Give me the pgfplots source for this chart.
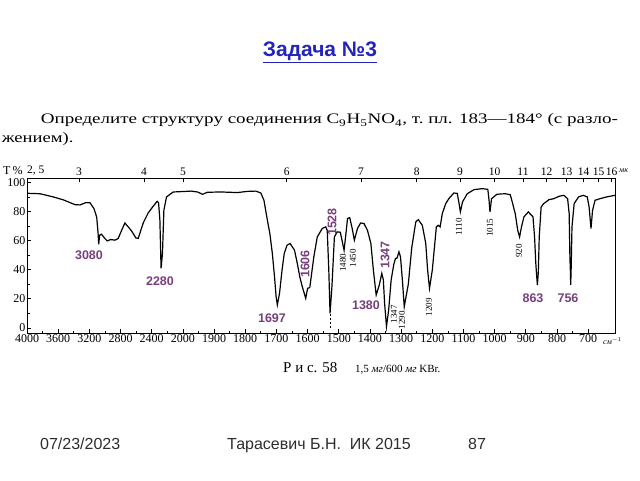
\documentclass[border=0pt]{standalone}
\usepackage{pgfplots}
\pgfplotsset{compat=1.18}
\usepackage{pgfplotstable}
\usepackage{graphicx}
\usepackage{fontspec}
\setmainfont{Liberation Serif}
\newfontfamily\arial{Liberation Sans}
\definecolor{titleblue}{RGB}{35,35,190}
\definecolor{peak}{RGB}{120,62,125}
\definecolor{foot}{RGB}{45,45,45}

\pgfplotstableread{
nu T
4000 92.5
3833 92.2
3663 90
3535 88
3385 84.7
3320 84.5
3244 86.1
3192 86
3141 82
3106 76.2
3088 65
3080 57.5
3068 63.7
3045 64.4
3000 61.4
2971 59.8
2927 60.7
2872 60.3
2830 61.4
2786 67.1
2744 72.1
2701 69.4
2658 66.6
2603 61.8
2573 61.5
2509 72.1
2445 79
2381 83.6
2330 87
2312 86
2295 74
2280 41
2262 51
2244 80.8
2210 90
2124 93.4
2038 93.6
1974 94
1953 93.4
1937 91.8
1921 93.2
1878 93.4
1825 93
1793 93.8
1766 94
1750 92.7
1740 87.7
1729 74
1721 64.8
1713 51
1706 35
1701 21.5
1697 15.8
1690 23.8
1682 39.7
1675 51
1666 56.8
1656 58
1642 53.4
1633 44.3
1625 35.1
1617 28.3
1606 20.3
1600 27.2
1593 27.7
1580 48.8
1569 62.5
1553 68.3
1542 69.4
1537 67.1
1532 39.7
1528 10
1522 28.3
1514 62.5
1505 66
1495 65.7
1483 53.4
1477 64.8
1472 75.1
1465 75.8
1458 69.4
1450 60.3
1440 68.3
1430 72.1
1419 71.7
1408 67.1
1397 58
1389 39.7
1380 22.6
1370 29.5
1362 37.5
1357 32.9
1353 16.9
1347 1.0
1340 12.3
1332 32.9
1324 43.2
1318 47.7
1313 48
1307 52.3
1302 48.8
1296 32.9
1290 14.6
1277 30
1266 55
1253 72.8
1245 74.4
1232 70.5
1221 58
1215 39.7
1209 27.2
1200 39.7
1192 58
1187 69.4
1181 70.5
1175 69.4
1168 78.5
1157 85.4
1147 88.8
1131 92.7
1120 92.4
1115 86.6
1110 79.7
1103 86.6
1088 92.2
1066 95
1040 95.7
1022 95.2
1018 87.7
1015 79.7
1010 88.8
1003 90
993 91.8
982 92
966 92.2
950 91.5
945 87.7
934 78.5
926 67.1
920 62.5
914 69.4
906 76.3
892 79.7
877 76.3
872 62.5
868 44.3
866 38
863 29.5
860 38
857 62.5
851 83
843 85.4
835 86.6
826 88.1
810 88.8
794 90.4
778 91.1
766 88.8
761 78.5
758.5 46.6
757.5 42
756 29.5
754.5 42
752 69.4
745 85.4
731 90
716 91.1
703 90
697 83
691 68.3
686 80.8
678 87.7
662 88.8
641 90
614 91.1
}\spectrum

\pgfplotsset{irscale/.style={
  scale only axis, width=588pt, height=155pt,
  at={(27pt,147pt)}, anchor=south west,
  x coord trafo/.code={\pgfmathparse{(##1>2000)?((4000-##1)/400):(5+(2000-##1)/100)}},
  xmin=4000, xmax=614, ymin=-3.5, ymax=103,
  enlargelimits=false,
  axis line style={line width=0.9pt},
  tick align=inside,
  major tick length=4pt, minor tick length=2.5pt,
  tick style={black, line width=0.7pt},
}}

\begin{document}
\begin{tikzpicture}[x=1pt,y=1pt]
\path[use as bounding box] (0,0) rectangle (640,480);

\begin{axis}[irscale,
  tick pos=left,
  xtick={4000,3600,3200,2800,2400,2000,1900,1800,1700,1600,1500,1400,1300,1200,1100,1000,900,800,700},
  xticklabels={4000,3600,3200,2800,2400,2000,1900,1800,1700,1600,1500,1400,1300,1200,1100,1000,900,800,700},
  minor x tick num=1,
  ytick={0,20,40,60,80,100}, minor y tick num=1,
  xticklabel style={font=\fontsize{12}{12}\selectfont, yshift=2pt},
  yticklabel style={font=\fontsize{12}{12}\selectfont, xshift=2pt},
  /pgf/number format/assume math mode=true,
]
\addplot[black, line width=1.2pt] table[x=nu, y=T] {\spectrum};
\end{axis}

\begin{axis}[irscale, hide y axis, axis x line*=top,
  xtick={4000,3333.33,2500,2000,1666.67,1428.57,1250,1111.11,1000,909.09,833.33,769.23,714.29,666.67,625},
  xticklabels={{},3,4,5,6,7,8,9,10,11,12,13,14,15,16},
  minor x tick num=0,
  xticklabel style={font=\fontsize{11.5}{11.5}\selectfont, yshift=-1pt},
]
\end{axis}

% axis annotations
\node[font=\fontsize{12}{12}\selectfont, anchor=base west, inner sep=0] at (3,305) {T\,\%};
\node[font=\fontsize{11.5}{11.5}\selectfont, anchor=base west, inner sep=0] at (27,306) {2, 5};
\node[font=\itshape\fontsize{8}{8}\selectfont, anchor=base west, inner sep=0] at (619,307) {мк};
\node[font=\itshape\fontsize{8}{8}\selectfont, anchor=base west, inner sep=0] at (603,136) {см$^{-1}$};

% purple peak labels
\begin{scope}[every node/.style={font=\arial\bfseries\fontsize{12.5}{12.5}\selectfont, text=peak, inner sep=0}]
\node at (89,225) {3080};
\node at (160,199) {2280};
\node at (272,162) {1697};
\node[rotate=90] at (305,216) {1606};
\node[rotate=90] at (332,258) {1528};
\node[rotate=90] at (385,225) {1347};
\node at (366,175) {1380};
\node at (533,182) {863};
\node at (568,182) {756};
\end{scope}

% small black labels
\begin{scope}[every node/.style={font=\fontsize{9}{9}\selectfont, inner sep=0, rotate=90}]
\node at (343,217) {1480};
\node at (353,222) {1450};
\node at (394,166) {1347};
\node at (402,160) {1290};
\node at (429,173) {1209};
\node at (459,253) {1110};
\node at (490,252) {1015};
\node at (519,229) {920};
\end{scope}
\draw[dashed, line width=0.6pt, dash pattern=on 2pt off 2pt] (330,166) -- (330,151);

% caption
\node[anchor=base west, inner sep=0, font=\fontsize{15}{15}\selectfont] at (283,108) {Р и с. 58};
\node[anchor=base west, inner sep=0, font=\fontsize{11}{11}\selectfont] at (355,108) {1,5 \textit{мг}/600 \textit{мг} KBr.};

% title and text
\node[anchor=base, font=\arial\bfseries\fontsize{21}{21}\selectfont, text=titleblue] at (320,423) {\underline{Задача №3}};
\node[anchor=base west, inner sep=0, font=\fontsize{14.5}{14.5}\selectfont] at (40.7,356) {\resizebox{577pt}{\height}{Определите структуру соединения C\textsubscript{9}H\textsubscript{5}NO\textsubscript{4}, т.~пл. 183—184° (с~разло-}};
\node[anchor=base west, inner sep=0, font=\fontsize{14.5}{14.5}\selectfont] at (1.7,337) {\scalebox{1.28}[1]{жением).}};

% footer
\node[anchor=base west, inner sep=0, font=\arial\fontsize{16}{16}\selectfont, text=foot] at (40,31) {07/23/2023};
\node[anchor=base, inner sep=0, font=\arial\fontsize{16}{16}\selectfont, text=foot] at (319,31) {Тарасевич Б.Н.\ \ ИК 2015};
\node[anchor=base west, inner sep=0, font=\arial\fontsize{16}{16}\selectfont, text=foot] at (468,31) {87};
\end{tikzpicture}
\end{document}
